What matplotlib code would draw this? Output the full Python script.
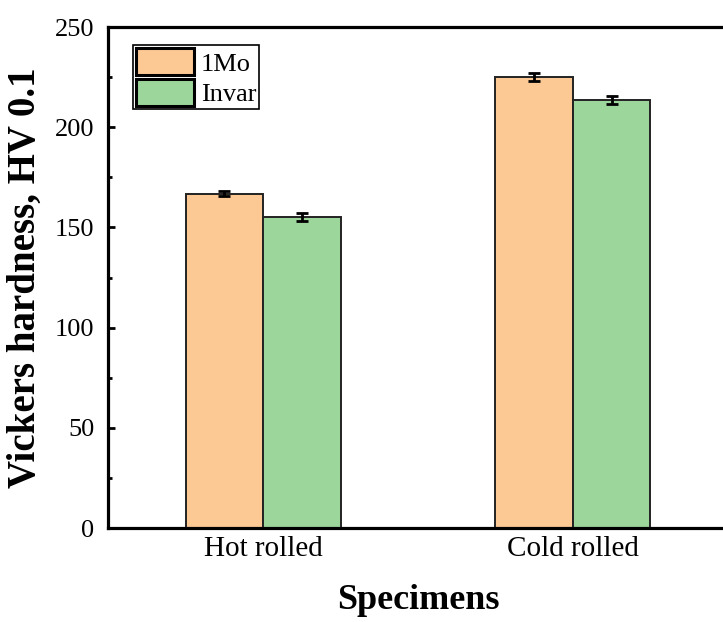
import numpy as np
import matplotlib
matplotlib.use("Agg")
import matplotlib.pyplot as plt
from matplotlib.ticker import MultipleLocator

plt.rcParams['font.family'] = ['Liberation Serif', 'DejaVu Serif']

specimens = ["Hot rolled", "Cold rolled"]
hv_1mo = [166.8, 225.3]
hv_1mo_err = [1.2, 2.0]
hv_invar = [155.0, 213.8]
hv_invar_err = [2.0, 2.0]

fig = plt.figure(figsize=(7.23, 6.22), dpi=100)
ax = fig.add_axes([0.1494, 0.151, 0.8575, 0.8055])

x = np.arange(len(specimens))
w = 0.25
ax.bar(x - w / 2, hv_1mo, w, color="#FCC894", edgecolor="#222222", linewidth=1.4,
       label="1Mo", zorder=2)
ax.bar(x + w / 2, hv_invar, w, color="#9DD69B", edgecolor="#222222", linewidth=1.4,
       label="Invar", zorder=2)
ax.errorbar(x - w / 2, hv_1mo, yerr=hv_1mo_err, fmt="none", ecolor="black",
            elinewidth=2, capsize=4, capthick=2, zorder=3)
ax.errorbar(x + w / 2, hv_invar, yerr=hv_invar_err, fmt="none", ecolor="black",
            elinewidth=2, capsize=4, capthick=2, zorder=3)

ax.set_xlim(-0.5, 1.5)
ax.set_ylim(0, 250)
ax.set_xticks(x)
ax.set_xticklabels(specimens, fontsize=21)
ax.yaxis.set_major_locator(MultipleLocator(50))
ax.yaxis.set_minor_locator(MultipleLocator(25))
ax.tick_params(axis="y", which="major", direction="in", length=5, width=2,
               labelsize=19, pad=10)
ax.tick_params(axis="y", which="minor", direction="in", length=3, width=2)
ax.tick_params(axis="x", length=0, pad=6)
for s in ax.spines.values():
    s.set_linewidth(2.3)

ax.set_ylabel("Vickers hardness, HV 0.1", fontsize=28, fontweight="bold")
ax.set_xlabel("Specimens", fontsize=26, fontweight="bold")
ax.yaxis.set_label_coords(-0.104, 0.5)
ax.xaxis.set_label_coords(0.5, -0.112)

leg = ax.legend(loc="upper left", bbox_to_anchor=(0.04, 0.964), fontsize=19,
                frameon=True, fancybox=False, edgecolor="black", framealpha=1,
                handlelength=2.2, handleheight=1.2, labelspacing=0.12,
                handletextpad=0.25, borderpad=0.12, borderaxespad=0)
leg.get_frame().set_linewidth(1.2)
for h in leg.legend_handles:
    h.set_linewidth(2.2)
    h.set_edgecolor("black")

fig.savefig("out.png", dpi=100)
